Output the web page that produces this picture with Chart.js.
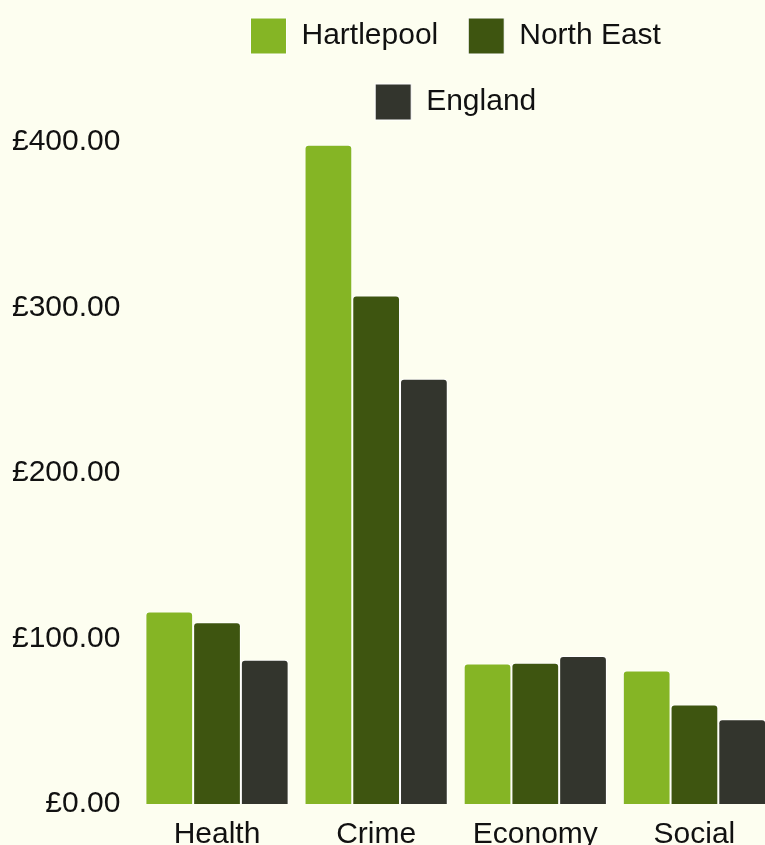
<!DOCTYPE html>
<html lang="en">
<head>
<meta charset="utf-8">
<title>Cost per head by area</title>
<script src="https://cdn.jsdelivr.net/npm/chart.js@4.4.1/dist/chart.umd.min.js"></script>
<style>
    html, body {
        margin: 0;
        padding: 0;
        background: #fdfef0;
        overflow: hidden;
        width: 765px;
        height: 845px;
    }
    .chart-wrap {
        position: absolute;
        left: -18px;
        top: -12px;
        width: 792px;
        height: 878px;
    }
</style>
</head>
<body>
<div class="chart-wrap">
    <canvas id="areaChart"></canvas>
</div>
<script>
// Chart data
const categories = ['Health', 'Crime', 'Economy', 'Social'];
const hartlepool = [116.3, 398.3, 84.9, 80.7];
const northEast = [109.8, 307.3, 85.3, 60.1];
const england = [87.1, 256.9, 89.5, 51.2];
const yTicks = [0, 100, 200, 300, 400];

const colours = {
    hartlepool: '#85b525',
    northEast: '#3e5510',
    england: '#33352d',
    text: '#111111'
};

// Extra room under the legend so the plot starts at the right height
const legendSpacing = {
    id: 'legendSpacing',
    beforeInit(chart) {
        const originalFit = chart.legend.fit;
        chart.legend.fit = function fit() {
            originalFit.bind(chart.legend)();
            this.height += 12;
        };
    }
};

Chart.defaults.font.family = '"Liberation Sans", Arial, Helvetica, sans-serif';
Chart.defaults.font.size = 30;
Chart.defaults.color = colours.text;

function makeDataset(label, data, colour) {
    return {
        label: label,
        data: data,
        backgroundColor: colour,
        borderColor: '#ffffff',
        borderWidth: 1,
        borderRadius: 4,
        categoryPercentage: 0.9,
        barPercentage: 1.0
    };
}

const ctx = document.getElementById('areaChart');

new Chart(ctx, {
    type: 'bar',
    data: {
        labels: categories,
        datasets: [
            makeDataset('Hartlepool', hartlepool, colours.hartlepool),
            makeDataset('North East', northEast, colours.northEast),
            makeDataset('England', england, colours.england)
        ]
    },
    options: {
        responsive: true,
        maintainAspectRatio: false,
        animation: false,
        layout: {
            padding: { left: 13, right: 0, top: 0, bottom: 0 }
        },
        plugins: {
            legend: {
                position: 'top',
                fullSize: false,
                labels: {
                    boxWidth: 36,
                    boxHeight: 36,
                    padding: 30,
                    font: { size: 30 }
                }
            },
            tooltip: { enabled: false }
        },
        scales: {
            x: {
                grid: { display: false, drawTicks: false },
                border: { display: false },
                ticks: { padding: 13 }
            },
            y: {
                min: 0,
                max: 400,
                grid: { display: false, drawTicks: false },
                border: { display: false },
                afterBuildTicks: axis => {
                    axis.ticks = yTicks.map(v => ({ value: v }));
                },
                ticks: {
                    padding: 17,
                    callback: value => '£' + Number(value).toFixed(2)
                }
            }
        }
    },
    plugins: [legendSpacing]
});
</script>
</body>
</html>
